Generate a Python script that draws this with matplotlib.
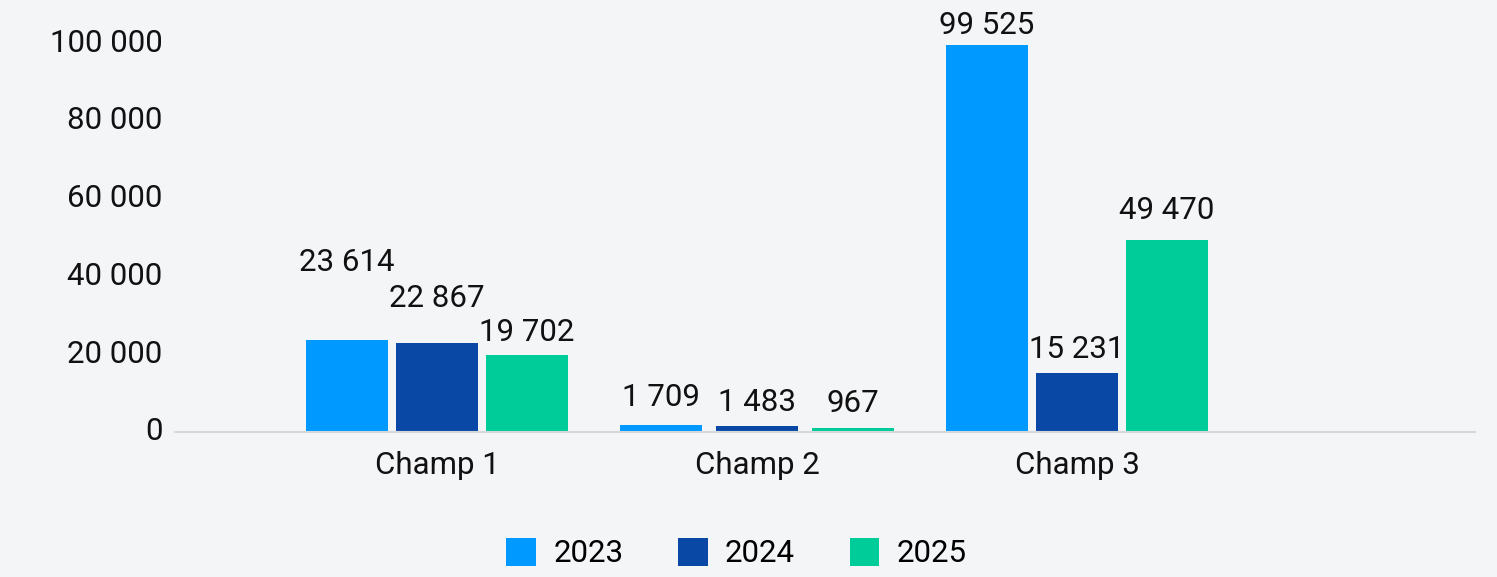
import matplotlib.pyplot as plt
import matplotlib.transforms as mtransforms
from matplotlib.patches import Patch
from matplotlib.ticker import FuncFormatter

plt.rcParams['font.family'] = ['Roboto', 'DejaVu Sans']

# Data
categories = ['Champ 1', 'Champ 2', 'Champ 3']
years = ['2023', '2024', '2025']
values_2023 = [23614, 1709, 99525]
values_2024 = [22867, 1483, 15231]
values_2025 = [19702, 967, 49470]
y_ticks = [0, 20000, 40000, 60000, 80000, 100000]

# Style
colors = ['#0099ff', '#0a48a6', '#00cc99']
bg = '#f4f5f7'
bar_width = 0.259
group_step = [0.28125, 0.30, 0.28125]   # distance between bars inside each group
# vertical gap (pixels) between bar top and label centre, as in the reference
label_gap = [[78, 45, 23], [28, 24, 25], [20, 23, 29]]
fs = 22.5

def fmt(v):
    return f"{int(v):,}".replace(',', ' ')

fig = plt.figure(figsize=(14.97, 5.77), dpi=100, facecolor=bg)
ax = fig.add_axes([175 / 1497, 145 / 577, 1300 / 1497, 388.8 / 577])
ax.set_facecolor(bg)

series = [values_2023, values_2024, values_2025]
for j, vals in enumerate(series):
    for i, v in enumerate(vals):
        x = i + (j - 1) * group_step[i]
        ax.bar(x, v, width=bar_width, color=colors[j], linewidth=0)
        ax.annotate(fmt(v), (x, v), xytext=(0, label_gap[i][j]),
                    textcoords='offset pixels', ha='center', va='center',
                    fontsize=fs, color='#111111', annotation_clip=False)

ax.set_xlim(-0.81875, 3.24375)
ax.set_ylim(0, 100000)
ax.set_xticks(range(len(categories)))
ax.set_xticklabels(categories)
ax.set_yticks(y_ticks)
ax.yaxis.set_major_formatter(FuncFormatter(lambda y, _: fmt(y)))
ax.tick_params(axis='both', length=0, labelsize=fs, colors='#111111')
ax.tick_params(axis='x', pad=14)
ax.tick_params(axis='y', pad=9)

# y labels sit a little above their gridline in the original
shift = mtransforms.ScaledTranslation(0, 3 / 100, fig.dpi_scale_trans)
for lab in ax.get_yticklabels():
    lab.set_transform(lab.get_transform() + shift)

for s in ['top', 'right', 'left']:
    ax.spines[s].set_visible(False)
ax.spines['bottom'].set_color('#d5d9dc')
ax.spines['bottom'].set_linewidth(1.5)

# Legend
handles = [Patch(facecolor=c, edgecolor='none') for c in colors]
fig.legend(handles, years, loc='center', bbox_to_anchor=(0.492, 24 / 577),
           ncol=3, frameon=False, fontsize=fs, handlelength=0.95,
           handleheight=1.0, handletextpad=0.55, columnspacing=1.75)

plt.savefig('out.png', dpi=100, facecolor=bg)
